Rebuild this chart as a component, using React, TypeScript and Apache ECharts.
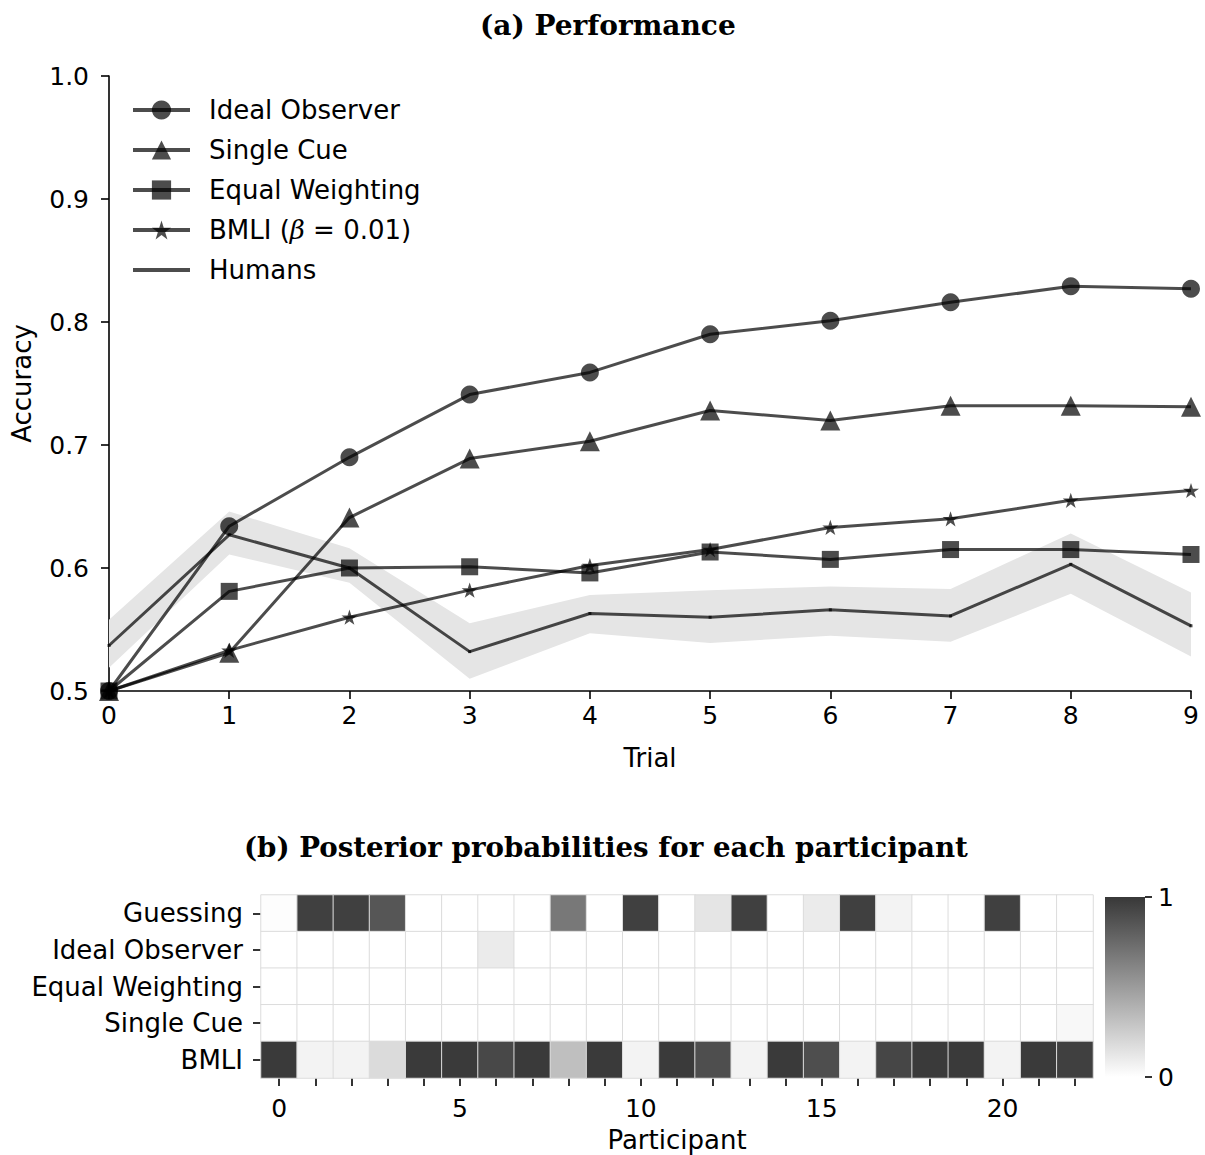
import React, { useEffect, useRef } from 'react';
import * as echarts from 'echarts';

// ---------- (a) Performance ----------
const trials = ['0', '1', '2', '3', '4', '5', '6', '7', '8', '9'];
const yTicks = [0.5, 0.6, 0.7, 0.8, 0.9, 1.0];
const idealObserver = [0.5, 0.634, 0.690, 0.741, 0.759, 0.790, 0.801, 0.816, 0.829, 0.827];
const singleCue = [0.5, 0.531, 0.641, 0.689, 0.703, 0.728, 0.720, 0.732, 0.732, 0.731];
const equalWeighting = [0.5, 0.581, 0.600, 0.601, 0.596, 0.613, 0.607, 0.615, 0.615, 0.611];
const bmli = [0.5, 0.533, 0.560, 0.582, 0.602, 0.615, 0.633, 0.640, 0.655, 0.663];
const humans = [0.537, 0.627, 0.600, 0.532, 0.563, 0.560, 0.566, 0.561, 0.603, 0.553];
const humansUpper = [0.558, 0.646, 0.616, 0.555, 0.578, 0.582, 0.585, 0.583, 0.628, 0.580];
const humansLower = [0.519, 0.611, 0.588, 0.510, 0.547, 0.539, 0.545, 0.540, 0.579, 0.528];

// ---------- (b) Posterior probabilities ----------
const participants = ['0', '1', '2', '3', '4', '5', '6', '7', '8', '9', '10', '11', '12', '13', '14', '15', '16', '17', '18', '19', '20', '21', '22'];
const models = ['Guessing', 'Ideal Observer', 'Equal Weighting', 'Single Cue', 'BMLI'];
const postGuessing = [0.01, 0.96, 0.96, 0.85, 0, 0, 0, 0, 0.68, 0, 0.96, 0, 0.13, 0.96, 0, 0.1, 0.96, 0.06, 0, 0, 0.96, 0, 0];
const postIdealObserver = [0, 0, 0, 0, 0, 0, 0.1, 0, 0, 0, 0, 0, 0, 0, 0, 0, 0, 0, 0, 0, 0, 0, 0];
const postEqualWeighting = [0, 0, 0, 0, 0, 0, 0, 0, 0, 0, 0, 0, 0, 0, 0, 0, 0, 0, 0, 0, 0, 0, 0];
const postSingleCue = [0, 0, 0, 0, 0, 0, 0, 0, 0, 0, 0, 0, 0, 0, 0, 0, 0, 0, 0, 0, 0, 0, 0.035];
const postBMLI = [0.99, 0.06, 0.06, 0.18, 0.99, 0.99, 0.92, 0.99, 0.32, 0.99, 0.06, 0.99, 0.89, 0.06, 0.99, 0.89, 0.06, 0.93, 0.99, 0.99, 0.06, 0.99, 0.96];
const posteriors = [postGuessing, postIdealObserver, postEqualWeighting, postSingleCue, postBMLI];
const colorbarTicks = ['1', '0'];

const LINE = 'rgba(0,0,0,0.7)';
const SANS = 'DejaVu Sans';
const STAR = 'path://M50,0 L61.23,34.55 L97.55,34.55 L68.17,55.9 L79.39,90.45 L50,69.1 L20.61,90.45 L31.83,55.9 L2.45,34.55 L38.77,34.55 Z';
const BMLI_NAME = 'BMLI (β = 0.01)';

function lineSeries(name: string, data: number[], symbol: string, size: number) {
  return {
    type: 'line',
    name,
    data,
    symbol,
    symbolSize: size,
    symbolKeepAspect: true,
    showAllSymbol: true,
    xAxisIndex: 0,
    yAxisIndex: 0,
    lineStyle: { color: LINE, width: 3 },
    itemStyle: { color: LINE },
    z: 3,
  };
}

export default function App() {
  const ref = useRef<HTMLDivElement>(null);
  useEffect(() => {
    document.body.style.margin = '0';
    const chart = echarts.init(ref.current!, null, { renderer: 'svg' });

    const heatData: number[][] = [];
    posteriors.forEach((row, r) => row.forEach((v, c) => heatData.push([c, r, v])));

    const option: any = {
      animation: false,
      backgroundColor: '#ffffff',
      title: [
        {
          text: '(a) Performance',
          left: 480,
          top: 11,
          padding: 0,
          textStyle: { fontFamily: 'DejaVu Serif', fontWeight: 'bold', fontSize: 28, color: '#000' },
        },
        {
          text: '(b) Posterior probabilities for each participant',
          left: 244,
          top: 833,
          padding: 0,
          textStyle: { fontFamily: 'DejaVu Serif', fontWeight: 'bold', fontSize: 27.7, color: '#000' },
        },
      ],
      grid: [
        { left: 109, top: 76, width: 1082, height: 615 },
        { left: 261, top: 895, width: 832, height: 183 },
      ],
      legend: {
        orient: 'vertical',
        left: 131,
        top: 97,
        padding: 0,
        itemWidth: 57,
        itemHeight: 24,
        itemGap: 14,
        lineStyle: { width: 4 },
        data: ['Ideal Observer', 'Single Cue', 'Equal Weighting', BMLI_NAME, { name: 'Humans', icon: 'path://M0,0L100,0L100,7L0,7Z' }],
        formatter: (name: string) => (name === BMLI_NAME ? 'BMLI ({i|β} = 0.01)' : name),
        textStyle: {
          fontFamily: SANS,
          fontSize: 26,
          lineHeight: 26,
          color: '#000',
          padding: [0, 0, 0, 14],
          rich: { i: { fontFamily: 'DejaVu Serif', fontStyle: 'italic', fontSize: 26, lineHeight: 26, color: '#000' } },
        },
      },
      xAxis: [
        {
          type: 'category',
          gridIndex: 0,
          data: trials,
          boundaryGap: false,
          name: 'Trial',
          nameLocation: 'middle',
          nameGap: 54,
          nameTextStyle: { fontFamily: SANS, fontSize: 26, color: '#000' },
          axisLine: { show: true, lineStyle: { color: '#000', width: 1.6 } },
          axisTick: { show: true, inside: false, length: 8, lineStyle: { color: '#000', width: 1.6 } },
          axisLabel: { fontFamily: SANS, fontSize: 25, color: '#000', margin: 12 },
          splitLine: { show: false },
        },
        {
          type: 'category',
          gridIndex: 1,
          data: participants,
          name: 'Participant',
          nameLocation: 'middle',
          nameGap: 49,
          nameTextStyle: { fontFamily: SANS, fontSize: 26, color: '#000' },
          axisLine: { show: false },
          axisTick: { show: true, alignWithLabel: true, interval: 0, length: 8, lineStyle: { color: '#000', width: 1.6 } },
          axisLabel: { fontFamily: SANS, fontSize: 25, color: '#000', margin: 18, interval: (i: number) => i % 5 === 0 },
          splitLine: { show: false },
        },
      ],
      yAxis: [
        {
          type: 'value',
          gridIndex: 0,
          min: 0.5,
          max: 1.0,
          interval: 0.1,
          name: 'Accuracy',
          nameLocation: 'middle',
          nameGap: 74,
          nameTextStyle: { fontFamily: SANS, fontSize: 26, color: '#000' },
          axisLine: { show: true, lineStyle: { color: '#000', width: 1.6 } },
          axisTick: { show: true, inside: false, length: 8, lineStyle: { color: '#000', width: 1.6 } },
          axisLabel: {
            fontFamily: SANS,
            fontSize: 25,
            color: '#000',
            margin: 20,
            formatter: (v: number) => (yTicks.some((t) => Math.abs(t - v) < 1e-9) ? v.toFixed(1) : ''),
          },
          splitLine: { show: false },
        },
        {
          type: 'category',
          gridIndex: 1,
          data: models,
          inverse: true,
          axisLine: { show: false },
          axisTick: { show: true, alignWithLabel: true, length: 8, lineStyle: { color: '#000', width: 1.6 } },
          axisLabel: { fontFamily: SANS, fontSize: 26, color: '#000', margin: 18 },
          splitLine: { show: false },
        },
      ],
      visualMap: {
        type: 'continuous',
        show: false,
        min: 0,
        max: 1,
        seriesIndex: 7,
        inRange: { color: ['#ffffff', '#383838'] },
      },
      graphic: [
        {
          type: 'rect',
          shape: { x: 1105, y: 897, width: 40, height: 180 },
          style: {
            fill: new echarts.graphic.LinearGradient(0, 0, 0, 1, [
              { offset: 0, color: '#383838' },
              { offset: 1, color: '#ffffff' },
            ]),
          },
        },
        { type: 'line', shape: { x1: 1145, y1: 897, x2: 1152, y2: 897 }, style: { stroke: '#000', lineWidth: 1.6 } },
        { type: 'line', shape: { x1: 1145, y1: 1077, x2: 1152, y2: 1077 }, style: { stroke: '#000', lineWidth: 1.6 } },
        { type: 'text', x: 1158, y: 897, style: { text: colorbarTicks[0], font: `25px "${SANS}"`, fill: '#000', verticalAlign: 'middle' } },
        { type: 'text', x: 1158, y: 1077, style: { text: colorbarTicks[1], font: `25px "${SANS}"`, fill: '#000', verticalAlign: 'middle' } },
      ],
      series: [
        {
          type: 'line',
          name: 'band-lower',
          data: humansLower,
          stack: 'band',
          symbol: 'none',
          silent: true,
          lineStyle: { opacity: 0 },
          xAxisIndex: 0,
          yAxisIndex: 0,
          z: 1,
        },
        {
          type: 'line',
          name: 'band-width',
          data: humansUpper.map((u, i) => +(u - humansLower[i]).toFixed(4)),
          stack: 'band',
          symbol: 'none',
          silent: true,
          lineStyle: { opacity: 0 },
          areaStyle: { color: '#e5e5e5', opacity: 1 },
          xAxisIndex: 0,
          yAxisIndex: 0,
          z: 1,
        },
        lineSeries('Ideal Observer', idealObserver, 'circle', 18),
        lineSeries('Single Cue', singleCue, 'triangle', 20),
        lineSeries('Equal Weighting', equalWeighting, 'rect', 17),
        lineSeries(BMLI_NAME, bmli, STAR, 16),
        lineSeries('Humans', humans, 'rect', 3),
        {
          type: 'heatmap',
          name: 'posterior',
          xAxisIndex: 1,
          yAxisIndex: 1,
          data: heatData,
          itemStyle: { borderColor: '#dcdcdc', borderWidth: 1 },
          emphasis: { disabled: true },
        },
      ],
    };
    chart.setOption(option);
    return () => chart.dispose();
  }, []);
  return <div ref={ref} style={{ width: 1205, height: 1155 }} />;
}
